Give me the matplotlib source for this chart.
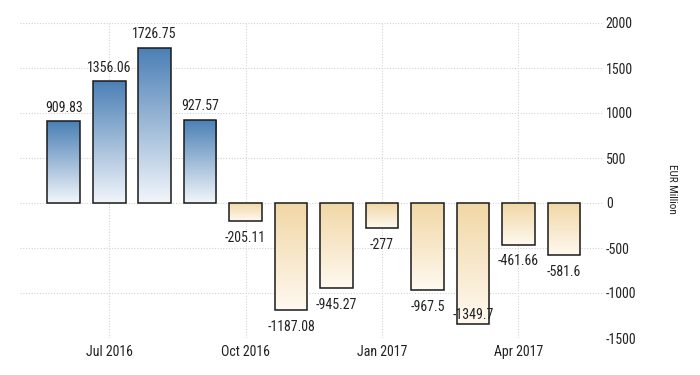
import numpy as np
import matplotlib
matplotlib.use("Agg")
import matplotlib.pyplot as plt
from matplotlib import font_manager
from matplotlib.colors import LinearSegmentedColormap
from matplotlib.patches import Rectangle

months = ["Jun 2016", "Jul 2016", "Aug 2016", "Sep 2016", "Oct 2016", "Nov 2016",
          "Dec 2016", "Jan 2017", "Feb 2017", "Mar 2017", "Apr 2017", "May 2017"]
values = [909.83, 1356.06, 1726.75, 927.57, -205.11, -1187.08,
          -945.27, -277, -967.5, -1349.7, -461.66, -581.6]
labels = ["909.83", "1356.06", "1726.75", "927.57", "-205.11", "-1187.08",
          "-945.27", "-277", "-967.5", "-1349.7", "-461.66", "-581.6"]
xtick_labels = ["Jul 2016", "Oct 2016", "Jan 2017", "Apr 2017"]
xtick_months = ["Jul 2016", "Oct 2016", "Jan 2017", "Apr 2017"]
yticks = [-1500, -1000, -500, 0, 500, 1000, 1500, 2000]

available = {f.name for f in font_manager.fontManager.ttflist}
FS = 10
FONT = None
for cand in ["Liberation Sans Narrow", "DejaVu Sans Condensed", "Roboto Condensed",
             "Arial Narrow", "Open Sans Condensed"]:
    if cand in available:
        FONT = [cand, "DejaVu Sans"]
        break
if FONT is None:
    FONT = ["Liberation Sans", "DejaVu Sans"]
    FS = 9
TXT = "#222222"

fig = plt.figure(figsize=(7, 3.75), dpi=100)
ax = fig.add_axes([20/700, 37/375, 583/700, 315/375])

blue = LinearSegmentedColormap.from_list("b", ["#f2f6fb", "#4a7fb5"])
tan = LinearSegmentedColormap.from_list("t", ["#fff9f0", "#f1d7a5"])

x = np.arange(len(values))
width = 0.72
grad = np.linspace(0, 1, 256).reshape(-1, 1)
for xi, v in zip(x, values):
    rect = Rectangle((xi - width/2, min(0, v)), width, abs(v),
                     facecolor="none", edgecolor="#1a1a1a", linewidth=1.1, zorder=4)
    ax.add_patch(rect)
    cmap = blue if v > 0 else tan
    im = ax.imshow(grad, cmap=cmap, aspect="auto", origin="lower",
                   extent=[xi - width/2, xi + width/2, min(0, v), max(0, v)],
                   zorder=3, interpolation="bilinear")
    clip = Rectangle((xi - width/2, min(0, v)), width, abs(v), transform=ax.transData)
    im.set_clip_path(clip)

ylo, yhi = -1500, 2000
for xi, v, lab in zip(x, values, labels):
    if v > 0:
        off = 9.5
    else:
        off = 7 if v < -1300 else -12
    ax.annotate(lab, (xi, v), xytext=(0, off), textcoords="offset points",
                ha="center", va="center", fontsize=FS, color=TXT, family=FONT, zorder=5)

ax.set_xlim(-0.96, 11.86)
ax.set_ylim(ylo, yhi)

ax.set_yticks(yticks)
ax.set_yticklabels([str(t) for t in yticks], family=FONT, fontsize=FS, color=TXT)
ax.yaxis.tick_right()
ax.tick_params(axis="y", length=0, pad=2)

xt = [months.index(m) for m in xtick_months]
ax.set_xticks(xt)
ax.set_xticklabels(xtick_labels, family=FONT, fontsize=FS, color=TXT)
ax.tick_params(axis="x", length=0, pad=5)

ax.grid(True, linestyle=(0, (1, 1.5)), color="#d4d4d4", linewidth=0.8, zorder=0)
ax.set_axisbelow(True)
for s in ax.spines.values():
    s.set_visible(False)

fig.text(672/700, 1 - 189/375, "EUR Million", rotation=-90, ha="center", va="center",
         fontsize=8, color=TXT, family=FONT)

fig.savefig("out.png", dpi=100, facecolor="white")
